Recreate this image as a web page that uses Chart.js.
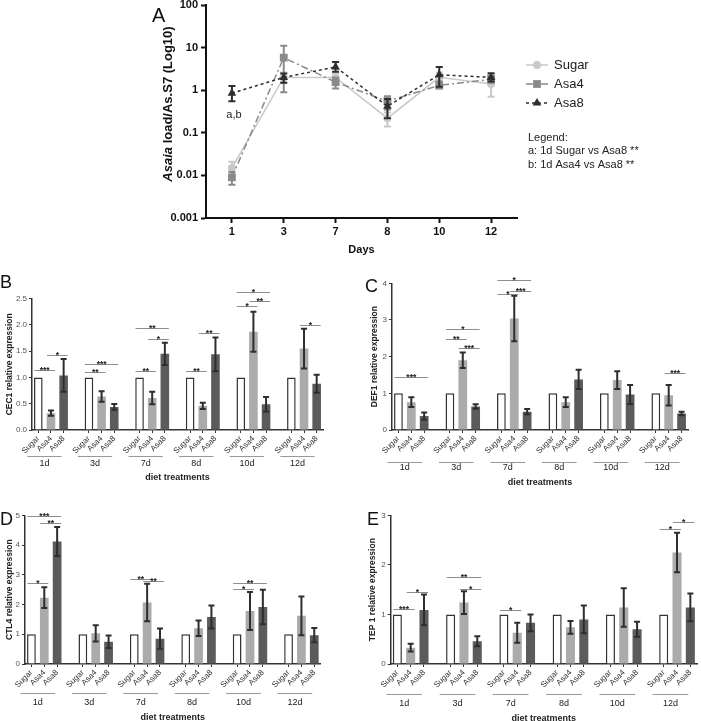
<!DOCTYPE html>
<html>
<head>
<meta charset="utf-8">
<script src="https://cdn.jsdelivr.net/npm/chart.js@4.4.0/dist/chart.umd.min.js"></script>
<style>
  html, body { margin: 0; padding: 0; background: #fff; overflow: hidden; }
  body { position: relative; width: 701px; height: 721px; }
  canvas { position: absolute; }
</style>
</head>
<body>
<canvas id="panelA" style="left:0;top:-20px" width="701" height="290"></canvas>
<canvas id="panelB" style="left:0;top:270px" width="350" height="220"></canvas>
<canvas id="panelC" style="left:350px;top:270px" width="351" height="220"></canvas>
<canvas id="panelD" style="left:0;top:500px" width="350" height="224"></canvas>
<canvas id="panelE" style="left:350px;top:500px" width="351" height="224"></canvas>
<script>
// --- panel A: Asaia load over time (log scale) ---
const days = ['1', '3', '7', '8', '10', '12'];
const loadTicks = [0.001, 0.01, 0.1, 1, 10, 100];
const sugarLoad = [0.015, 2.0, 2.0, 0.22, 2.0, 1.4];
const sugarLoadErr = [[0.010, 0.021], [1.5, 2.6], [1.6, 2.5], [0.14, 0.30], [1.4, 2.6], [0.7, 2.2]];
const asa4Load = [0.009, 5.8, 1.55, 0.55, 1.3, 1.8];
const asa4LoadErr = [[0.006, 0.012], [0.9, 11], [1.1, 2.0], [0.35, 0.72], [1.1, 1.6], [1.5, 2.2]];
const asa8Load = [0.85, 2.0, 3.5, 0.42, 2.3, 2.0];
const asa8LoadErr = [[0.55, 1.25], [1.5, 2.45], [2.7, 4.6], [0.22, 0.62], [1.2, 3.5], [1.6, 2.5]];
const legendNotes = ['Legend:', 'a: 1d Sugar vs Asa8 **', 'b: 1d Asa4 vs Asa8 **'];

// --- panels B-E: relative expression per diet treatment ---
const groups = ['1d', '3d', '7d', '8d', '10d', '12d'];
const treatments = ['Sugar', 'Asa4', 'Asa8'];
const sugarRef = [1, 1, 1, 1, 1, 1];
const sugarSem = [0, 0, 0, 0, 0, 0];

const cec1Asa4 = [0.32, 0.64, 0.61, 0.46, 1.87, 1.55];
const cec1Asa4Sem = [0.05, 0.10, 0.12, 0.06, 0.38, 0.38];
const cec1Asa8 = [1.04, 0.44, 1.45, 1.44, 0.49, 0.88];
const cec1Asa8Sem = [0.31, 0.055, 0.21, 0.32, 0.14, 0.17];
const cec1Ticks = [0, 0.5, 1, 1.5, 2, 2.5];
// [group, from, to, level, stars]
const cec1Sig = [
  [0, 0, 1, 1.14, '***'], [0, 1, 2, 1.42, '*'],
  [1, 0, 1, 1.10, '**'], [1, 0, 2, 1.26, '***'],
  [2, 0, 1, 1.12, '**'], [2, 1, 2, 1.73, '*'], [2, 0, 2, 1.94, '**'],
  [3, 0, 1, 1.12, '**'], [3, 1, 2, 1.85, '**'],
  [4, 0, 1, 2.37, '*'], [4, 1, 2, 2.45, '**'], [4, 0, 2, 2.62, '*'],
  [5, 1, 2, 2.00, '*']
];

const def1Asa4 = [0.76, 1.90, 3.04, 0.76, 1.36, 0.95];
const def1Asa4Sem = [0.13, 0.21, 0.62, 0.13, 0.24, 0.28];
const def1Asa8 = [0.38, 0.64, 0.50, 1.38, 0.97, 0.45];
const def1Asa8Sem = [0.10, 0.06, 0.07, 0.26, 0.26, 0.05];
const def1Ticks = [0, 1, 2, 3, 4];
const def1Sig = [
  [0, 0, 2, 1.44, '***'],
  [1, 0, 1, 2.47, '**'], [1, 1, 2, 2.23, '***'], [1, 0, 2, 2.75, '*'],
  [2, 0, 1, 3.72, '*'], [2, 1, 2, 3.80, '***'], [2, 0, 2, 4.09, '*'],
  [5, 1, 2, 1.56, '***']
];

const ctl4Asa4 = [2.23, 1.03, 2.07, 1.20, 1.78, 1.62];
const ctl4Asa4Sem = [0.35, 0.27, 0.63, 0.26, 0.64, 0.65];
const ctl4Asa8 = [4.12, 0.75, 0.85, 1.58, 1.92, 0.97];
const ctl4Asa8Sem = [0.49, 0.21, 0.34, 0.39, 0.58, 0.24];
const ctl4Ticks = [0, 1, 2, 3, 4, 5];
const ctl4Sig = [
  [0, 0, 1, 2.74, '*'], [0, 1, 2, 4.75, '**'], [0, 0, 2, 4.98, '***'],
  [2, 0, 1, 2.86, '**'], [2, 1, 2, 2.79, '**'],
  [4, 0, 1, 2.52, '*'], [4, 0, 2, 2.72, '**']
];

const tep1Asa4 = [0.33, 1.24, 0.63, 0.74, 1.14, 2.25];
const tep1Asa4Sem = [0.08, 0.23, 0.20, 0.13, 0.39, 0.40];
const tep1Asa8 = [1.09, 0.46, 0.83, 0.90, 0.70, 1.14];
const tep1Asa8Sem = [0.31, 0.10, 0.17, 0.28, 0.15, 0.28];
const tep1Ticks = [0, 1, 2, 3];
const tep1Sig = [
  [0, 0, 1, 1.11, '***'], [0, 1, 2, 1.46, '*'],
  [1, 0, 2, 1.76, '**'], [1, 1, 2, 1.52, '*'],
  [2, 0, 1, 1.08, '*'],
  [5, 0, 1, 2.72, '*'], [5, 1, 2, 2.86, '*']
];

const FONT = '"Liberation Sans", Arial, sans-serif';
Chart.defaults.font.family = FONT;
Chart.defaults.color = '#222';
Chart.defaults.animation = false;

function drawBar(ctx, x, y0, y1, cap) {
  ctx.beginPath();
  ctx.moveTo(x, y0); ctx.lineTo(x, y1);
  ctx.moveTo(x - cap, y0); ctx.lineTo(x + cap, y0);
  ctx.moveTo(x - cap, y1); ctx.lineTo(x + cap, y1);
  ctx.stroke();
}

// ---------- panel A ----------
function renderPanelA() {
  const canvas = document.getElementById('panelA');
  const H = canvas.height, W = canvas.width;
  const area = { left: 206, right: 517, top: 25, bottom: 238 };

  const panelAExtras = {
    id: 'panelAExtras',
    afterDatasetDraw(chart, args) {
      const ds = chart.data.datasets[args.index];
      const y = chart.scales.y, ctx = chart.ctx;
      ctx.save();
      ctx.strokeStyle = ds.borderColor;
      ctx.lineWidth = 2;
      args.meta.data.forEach((pt, i) => {
        const [lo, hi] = ds.err[i];
        drawBar(ctx, pt.x, y.getPixelForValue(lo), y.getPixelForValue(hi), 3.5);
      });
      ctx.restore();
    },
    afterDraw(chart) {
      const ctx = chart.ctx;
      ctx.save();
      // panel letter
      ctx.fillStyle = '#111';
      ctx.font = '20px ' + FONT;
      ctx.textBaseline = 'alphabetic';
      ctx.fillText('A', 152, 42);

      // y title, with the genus in italics
      ctx.translate(168, 124);
      ctx.rotate(-Math.PI / 2);
      const f1 = 'italic bold 13px ' + FONT, f2 = 'bold 13px ' + FONT;
      ctx.font = f1; const w1 = ctx.measureText('Asaia').width;
      ctx.font = f2; const w2 = ctx.measureText(' load/As.S7 (Log10)').width;
      ctx.textBaseline = 'middle';
      ctx.font = f1; ctx.fillText('Asaia', -(w1 + w2) / 2, 0);
      ctx.font = f2; ctx.fillText(' load/As.S7 (Log10)', -(w1 + w2) / 2 + w1, 0);
      ctx.setTransform(1, 0, 0, 1, 0, 0);

      // significance note under day 1
      const first = chart.getDatasetMeta(2).data[0];
      ctx.font = '11px ' + FONT;
      ctx.textAlign = 'center';
      ctx.fillStyle = '#222';
      ctx.fillText('a,b', first.x + 2, chart.scales.y.getPixelForValue(0.26));

      // series legend
      ctx.textAlign = 'left';
      chart.data.datasets.forEach((ds, i) => {
        const ly = 85 + i * 19;
        ctx.strokeStyle = ds.borderColor;
        ctx.lineWidth = 1.5;
        ctx.setLineDash(ds.borderDash || []);
        ctx.beginPath(); ctx.moveTo(526, ly); ctx.lineTo(548, ly); ctx.stroke();
        ctx.setLineDash([]);
        ctx.fillStyle = ds.backgroundColor;
        Chart.helpers.drawPoint(ctx, { pointStyle: ds.pointStyle, radius: ds.pointRadius, rotation: 0, borderWidth: 0 }, 537, ly);
        ctx.fillStyle = '#222';
        ctx.font = '13px ' + FONT;
        ctx.fillText(ds.label, 554, ly);
      });

      // comparison notes
      ctx.font = '11px ' + FONT;
      legendNotes.forEach((t, i) => ctx.fillText(t, 528, 158 + i * 13.4));
      ctx.restore();
    }
  };

  new Chart(canvas, {
    type: 'line',
    data: {
      labels: days,
      datasets: [
        { label: 'Sugar', data: sugarLoad, err: sugarLoadErr, order: 3,
          borderColor: '#c9c9c9', backgroundColor: '#c9c9c9', borderWidth: 1.5,
          pointStyle: 'circle', pointRadius: 4, pointBorderWidth: 0 },
        { label: 'Asa4', data: asa4Load, err: asa4LoadErr, order: 2,
          borderColor: '#8a8a8a', backgroundColor: '#8a8a8a', borderWidth: 1.5, borderDash: [7, 3, 2, 3],
          pointStyle: 'rect', pointRadius: 5.5, pointBorderWidth: 0 },
        { label: 'Asa8', data: asa8Load, err: asa8LoadErr, order: 1,
          borderColor: '#2e2e2e', backgroundColor: '#2e2e2e', borderWidth: 1.5, borderDash: [3, 3],
          pointStyle: 'triangle', pointRadius: 5, pointBorderWidth: 0 }
      ]
    },
    options: {
      responsive: false,
      layout: { padding: { left: 140, right: W - area.right, top: area.top, bottom: 0 } },
      plugins: { legend: { display: false }, tooltip: { enabled: false } },
      scales: {
        x: {
          offset: true,
          afterFit(s) { s.height = H - area.bottom; },
          ticks: { font: { size: 11, weight: 'bold' }, color: '#111', padding: 2 },
          grid: { drawOnChartArea: false, tickLength: 5, tickColor: '#111', tickWidth: 2 },
          border: { color: '#111', width: 2 },
          title: { display: true, text: 'Days', font: { size: 11, weight: 'bold' }, color: '#111',
                   padding: { top: 0, bottom: H - 270 - 6.6 } }
        },
        y: {
          type: 'logarithmic', min: 0.001, max: 100,
          afterBuildTicks(s) { s.ticks = loadTicks.map(v => ({ value: v })); },
          afterFit(s) { s.width = area.left - 140; },
          ticks: { font: { size: 11, weight: 'bold' }, color: '#111', padding: 3, callback: v => String(v) },
          grid: { drawOnChartArea: false, tickLength: 5, tickColor: '#111', tickWidth: 2 },
          border: { color: '#111', width: 2 }
        }
      }
    },
    plugins: [panelAExtras]
  });
}

// ---------- panels B-E ----------
function renderBarPanel(id, spec) {
  const canvas = document.getElementById(id);
  const W = canvas.width, H = canvas.height;
  const area = spec.area;
  const values = [], sems = [], labels = [], kinds = [];
  groups.forEach((g, gi) => {
    [sugarRef, spec.asa4, spec.asa8].forEach((arr, ti) => {
      values.push(arr[gi]); labels.push(treatments[ti]); kinds.push(ti);
    });
    [sugarSem, spec.asa4Sem, spec.asa8Sem].forEach(arr => sems.push(arr[gi]));
    if (gi < groups.length - 1) { values.push(null); sems.push(0); labels.push(''); kinds.push(3); }
  });
  const fills = ['#ffffff', '#ababab', '#5b5b5b', '#fff'];
  const borders = ['#333333', '#ababab', '#5b5b5b', '#fff'];

  const extras = {
    id: 'extras_' + id,
    afterDraw(chart) {
      const ctx = chart.ctx, y = chart.scales.y;
      const meta = chart.getDatasetMeta(0);
      const cx = (g, t) => meta.data[g * 4 + t].x;
      ctx.save();

      // error bars
      ctx.strokeStyle = '#2e2e2e';
      ctx.lineWidth = 2;
      meta.data.forEach((bar, i) => {
        if (values[i] == null || !sems[i]) return;
        drawBar(ctx, bar.x, y.getPixelForValue(values[i] - sems[i]), y.getPixelForValue(values[i] + sems[i]), 3);
      });

      // significance brackets
      ctx.lineWidth = 1;
      ctx.strokeStyle = '#8e8e8e';
      ctx.fillStyle = '#222';
      ctx.font = 'bold 8.5px ' + FONT;
      ctx.textAlign = 'center';
      ctx.textBaseline = 'alphabetic';
      spec.sig.forEach(([g, a, b, level, stars]) => {
        const x0 = cx(g, a) - 4, x1 = cx(g, b) + 4, yy = Math.round(y.getPixelForValue(level)) + 0.5;
        ctx.beginPath(); ctx.moveTo(x0, yy); ctx.lineTo(x1, yy); ctx.stroke();
        ctx.fillText(stars, (x0 + x1) / 2, yy + 2.6);
      });

      // group underlines and day labels
      const base = chart.chartArea.bottom;
      ctx.strokeStyle = '#999';
      ctx.font = '9px ' + FONT;
      ctx.textBaseline = 'middle';
      groups.forEach((g, gi) => {
        const x0 = cx(gi, 0) - 11, x1 = cx(gi, 2) - 2;
        const ly = Math.round(base + spec.lineDy) + 0.5;
        ctx.beginPath(); ctx.moveTo(x0, ly); ctx.lineTo(x1, ly); ctx.stroke();
        ctx.fillText(g, (x0 + x1) / 2, base + spec.labelDy);
      });

      // panel letter
      ctx.fillStyle = '#111';
      ctx.font = '18px ' + FONT;
      ctx.textAlign = 'left';
      ctx.textBaseline = 'alphabetic';
      ctx.fillText(spec.letter, spec.letterAt[0], spec.letterAt[1]);
      ctx.restore();
    }
  };

  new Chart(canvas, {
    type: 'bar',
    data: {
      labels: labels,
      datasets: [{
        data: values,
        backgroundColor: c => fills[kinds[c.index]],
        borderColor: c => borders[kinds[c.index]],
        borderWidth: c => (kinds[c.index] === 0 ? 1.5 : 0),
        barPercentage: 0.68,
        categoryPercentage: 1
      }]
    },
    options: {
      responsive: false,
      layout: { padding: { left: 0, right: W - area.right, top: area.top, bottom: 0 } },
      plugins: { legend: { display: false }, tooltip: { enabled: false } },
      scales: {
        x: {
          afterFit(s) { s.height = H - area.bottom; },
          ticks: { autoSkip: false, minRotation: 45, maxRotation: 45, font: { size: 8 }, color: '#333', padding: 1 },
          grid: { offset: false, drawOnChartArea: false, tickLength: 3,
                  tickColor: c => (labels[c.index] ? '#333' : 'rgba(0,0,0,0)') },
          border: { color: '#333', width: 1.5 },
          title: { display: true, text: 'diet treatments', font: { size: 9, weight: 'bold' }, color: '#222',
                   padding: { top: 0, bottom: Math.max(0, H - spec.xTitleY - 5.4) } }
        },
        y: {
          min: 0, max: spec.ticks[spec.ticks.length - 1],
          afterBuildTicks(s) { s.ticks = spec.ticks.map(v => ({ value: v })); },
          afterFit(s) { s.width = area.left; },
          ticks: { font: { size: 8 }, color: '#555', padding: 2, callback: v => v.toFixed(spec.decimals) },
          grid: { drawOnChartArea: false, tickLength: 3, tickColor: '#333' },
          border: { color: '#333', width: 1.5 },
          title: { display: true, text: spec.title, font: { size: 8.5, weight: 'bold' }, color: '#222',
                   padding: { top: spec.yTitleX - 5.1, bottom: 0 } }
        }
      }
    },
    plugins: [extras]
  });
}

renderPanelA();
renderBarPanel('panelB', {
  letter: 'B', letterAt: [0, 18], title: 'CEC1 relative expression', decimals: 1,
  asa4: cec1Asa4, asa4Sem: cec1Asa4Sem, asa8: cec1Asa8, asa8Sem: cec1Asa8Sem,
  ticks: cec1Ticks, sig: cec1Sig,
  area: { left: 32, right: 323, top: 28.7, bottom: 160 },
  yTitleX: 10, xTitleY: 208, lineDy: 26, labelDy: 34
});
renderBarPanel('panelC', {
  letter: 'C', letterAt: [15, 22], title: 'DEF1 relative expression', decimals: 0,
  asa4: def1Asa4, asa4Sem: def1Asa4Sem, asa8: def1Asa8, asa8Sem: def1Asa8Sem,
  ticks: def1Ticks, sig: def1Sig,
  area: { left: 42, right: 338, top: 13.3, bottom: 160 },
  yTitleX: 25, xTitleY: 212.7, lineDy: 31.7, labelDy: 38
});
renderBarPanel('panelD', {
  letter: 'D', letterAt: [0, 25], title: 'CTL4 relative expression', decimals: 0,
  asa4: ctl4Asa4, asa4Sem: ctl4Asa4Sem, asa8: ctl4Asa8, asa8Sem: ctl4Asa8Sem,
  ticks: ctl4Ticks, sig: ctl4Sig,
  area: { left: 25, right: 320.7, top: 15.3, bottom: 164 },
  yTitleX: 10, xTitleY: 218, lineDy: 28.7, labelDy: 38.7
});
renderBarPanel('panelE', {
  letter: 'E', letterAt: [17, 25], title: 'TEP 1 relative expression', decimals: 0,
  asa4: tep1Asa4, asa4Sem: tep1Asa4Sem, asa8: tep1Asa8, asa8Sem: tep1Asa8Sem,
  ticks: tep1Ticks, sig: tep1Sig,
  area: { left: 40.7, right: 347, top: 15.3, bottom: 164 },
  yTitleX: 23, xTitleY: 219, lineDy: 30, labelDy: 40
});
</script>
</body>
</html>
